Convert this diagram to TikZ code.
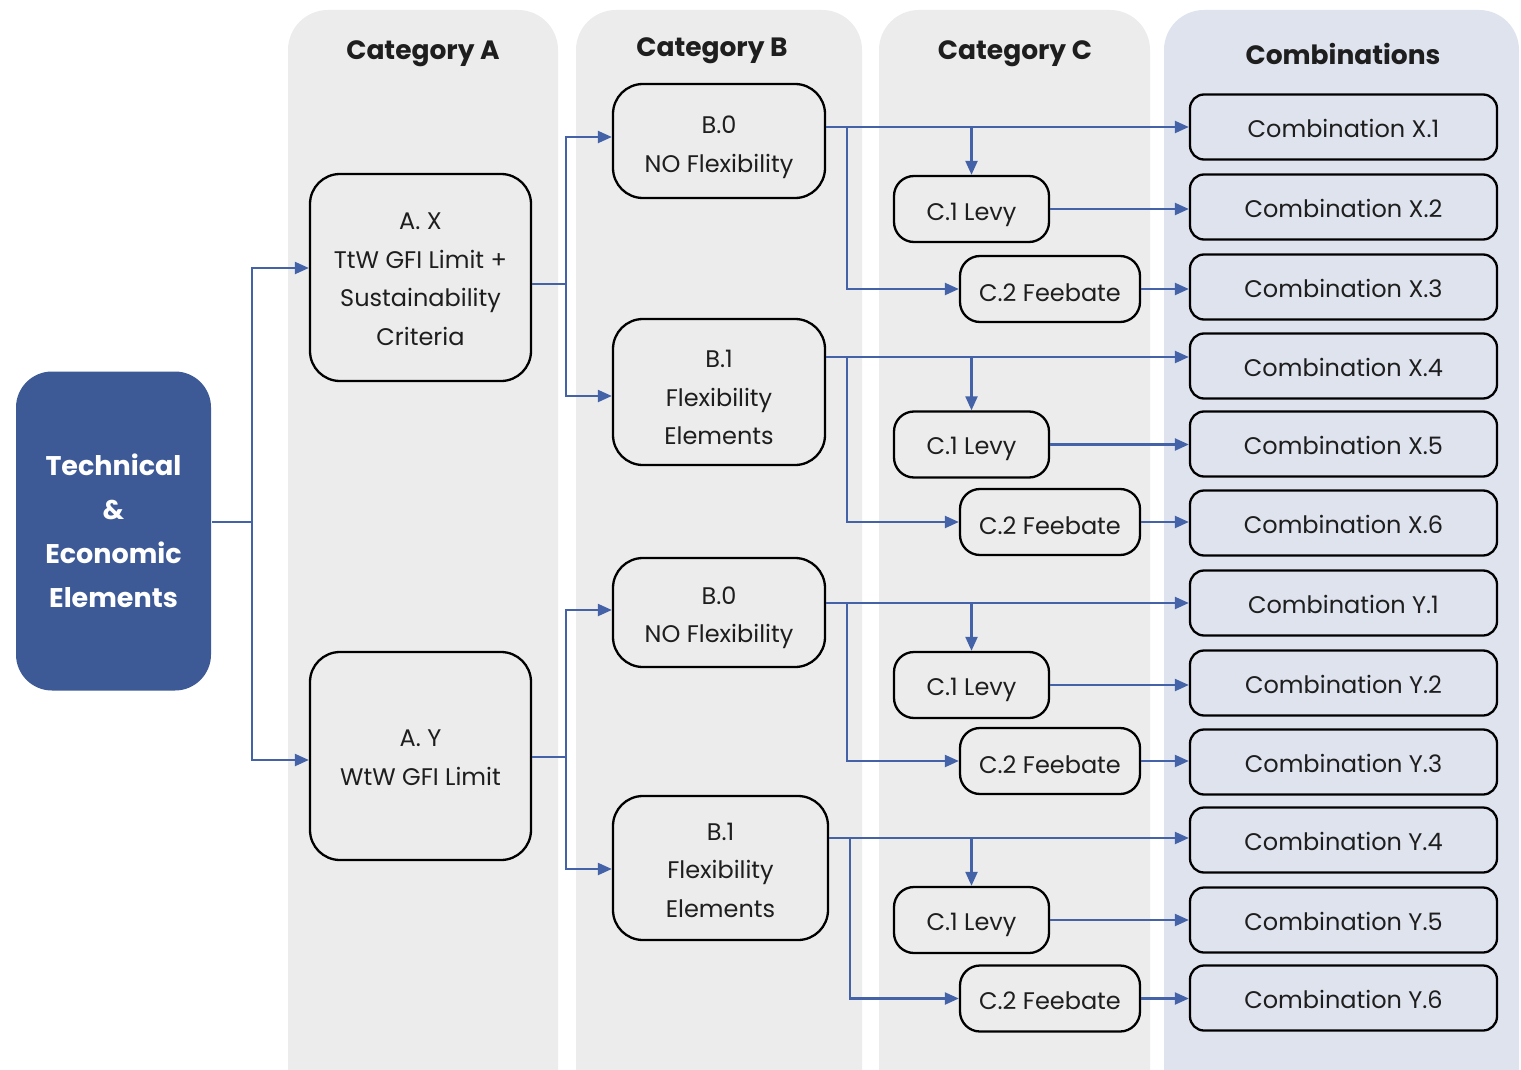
\documentclass[tikz,border=0pt]{standalone}
\usepackage{fontspec}
\setmainfont{Poppins}
\usetikzlibrary{arrows.meta}
\definecolor{panelgray}{HTML}{ECECEC}
\definecolor{panelblue}{HTML}{DFE3EE}
\definecolor{techblue}{HTML}{3D5A96}
\definecolor{connblue}{HTML}{4462A8}
\definecolor{txt}{HTML}{1E1E1E}
\newcommand\pushdown[1]{\rule{0pt}{#1}}
\tikzset{
  panel/.style={fill=panelgray, draw=none, rounded corners=40pt},
  cpanel/.style={fill=panelblue, draw=none, rounded corners=40pt},
  header/.style={font=\fontsize{26.5}{30}\selectfont\bfseries, text=txt},
  box/.style={draw=black, line width=2.3pt, rounded corners=30pt, align=center, inner sep=0pt,
    text=txt, font=\fontsize{24}{38.5}\selectfont},
  smallbox/.style={box, rounded corners=20pt, minimum width=155pt, minimum height=66pt},
  feebox/.style={box, rounded corners=20pt, minimum width=180pt, minimum height=66pt},
  combbox/.style={box, rounded corners=14pt, fill=panelblue, minimum width=307pt, minimum height=65pt},
  conn/.style={draw=connblue, line width=2.2pt, -{Triangle[length=14pt,width=12pt]}},
  connline/.style={draw=connblue, line width=2.2pt},
}
\begin{document}
\begin{tikzpicture}[x=1pt,y=-1pt]
\useasboundingbox (0,0) rectangle (1521,1070);
\clip (0,0) rectangle (1521,1070);
\fill[white] (0,0) rectangle (1521,1070);
% panels
\path[panel] (288,1110) -- (288,10) -- (558,10) -- (558,1110) -- cycle;
\path[panel] (576,1110) -- (576,10) -- (862,10) -- (862,1110) -- cycle;
\path[panel] (879,1110) -- (879,10) -- (1150,10) -- (1150,1110) -- cycle;
\path[cpanel] (1164,1110) -- (1164,10) -- (1519,10) -- (1519,1110) -- cycle;
% headers
\node[header] (hA) at (423,54) {Category A};
\node[header] (hB) at (712,51) {Category B};
\node[header] (hC) at (1015,54) {Category C};
\node[header] (hD) at (1343,54) {Combinations};
% technical
\node[box, draw=none, fill=techblue, text=white, rounded corners=36pt, minimum width=195pt, minimum height=319pt,
  font=\fontsize{27}{44}\selectfont\bfseries] (tech) at (113.5,531) {Technical\\\&\\Economic\\Elements};
% category A
\node[box, minimum width=221pt, minimum height=207pt] (ax) at (420.5,277.5) {\pushdown{20pt}A. X\\TtW GFI Limit +\\Sustainability\\Criteria};
\node[box, minimum width=221pt, minimum height=208pt] (ay) at (420.5,756) {\pushdown{20pt}A. Y\\WtW GFI Limit};
% category B
\node[box, minimum width=212pt, minimum height=114pt] (b0a) at (719,141) {\pushdown{30pt}B.0\\NO Flexibility};
\node[box, minimum width=212pt, minimum height=146pt] (b1a) at (719,392) {\pushdown{29pt}B.1\\Flexibility\\Elements};
\node[box, minimum width=212pt, minimum height=109pt] (b0b) at (719,612.5) {\pushdown{28pt}B.0\\NO Flexibility};
\node[box, minimum width=215pt, minimum height=144pt] (b1b) at (720.5,868) {\pushdown{22pt}B.1\\Flexibility\\Elements};
% category C
\node[smallbox] (c1a) at (971.5,209) {\pushdown{29pt}C.1 Levy};
\node[feebox] (c2a) at (1050,289) {\pushdown{25pt}C.2 Feebate};
\node[smallbox] (c1b) at (971.5,444.5) {\pushdown{27pt}C.1 Levy};
\node[feebox] (c2b) at (1050,522) {\pushdown{25pt}C.2 Feebate};
\node[smallbox] (c1c) at (971.5,685) {\pushdown{27pt}C.1 Levy};
\node[feebox] (c2c) at (1050,761) {\pushdown{25pt}C.2 Feebate};
\node[smallbox] (c1d) at (971.5,920) {\pushdown{27pt}C.1 Levy};
\node[feebox] (c2d) at (1050,998.5) {\pushdown{22pt}C.2 Feebate};
% combinations
\node[combbox] (x1) at (1343.5,127) {\pushdown{22pt}Combination X.1};
\node[combbox] (x2) at (1343.5,207) {\pushdown{22pt}Combination X.2};
\node[combbox] (x3) at (1343.5,287) {\pushdown{22pt}Combination X.3};
\node[combbox] (x4) at (1343.5,366) {\pushdown{22pt}Combination X.4};
\node[combbox] (x5) at (1343.5,444) {\pushdown{22pt}Combination X.5};
\node[combbox] (x6) at (1343.5,523) {\pushdown{22pt}Combination X.6};
\node[combbox] (y1) at (1343.5,603) {\pushdown{22pt}Combination Y.1};
\node[combbox] (y2) at (1343.5,683) {\pushdown{22pt}Combination Y.2};
\node[combbox] (y3) at (1343.5,762) {\pushdown{22pt}Combination Y.3};
\node[combbox] (y4) at (1343.5,840) {\pushdown{22pt}Combination Y.4};
\node[combbox] (y5) at (1343.5,920) {\pushdown{22pt}Combination Y.5};
\node[combbox] (y6) at (1343.5,998) {\pushdown{22pt}Combination Y.6};
% technical -> A
\coordinate (t1) at (252,522);
\draw[connline] (tech.east |- t1) -- (t1);
\draw[conn] (t1) |- (ax.west |- 0,268);
\draw[conn] (t1) |- (ay.west |- 0,760);
% A -> B
\coordinate (a1) at (566,284);
\draw[connline] (ax.east |- a1) -- (a1);
\draw[conn] (a1) |- (b0a.west |- 0,137);
\draw[conn] (a1) |- (b1a.west |- 0,396);
\coordinate (a2) at (566,757);
\draw[connline] (ay.east |- a2) -- (a2);
\draw[conn] (a2) |- (b0b.west |- 0,610);
\draw[conn] (a2) |- (b1b.west |- 0,869);
% group 1
\coordinate (j1) at (847,127);
\coordinate (d1) at (971.5,127);
\draw[conn] (b0a.east |- j1) -- (x1.west |- j1);
\draw[conn] (j1) |- (c2a.west);
\draw[conn] (d1) -- (c1a.north);
\draw[conn] (c1a.east) -- (x2.west |- c1a.east);
\draw[conn] (c2a.east) -- (x3.west |- c2a.east);
% group 2
\coordinate (j2) at (847,357);
\coordinate (d2) at (971.5,357);
\draw[conn] (b1a.east |- j2) -- (x4.west |- j2);
\draw[conn] (j2) |- (c2b.west);
\draw[conn] (d2) -- (c1b.north);
\draw[conn] (c1b.east) -- (x5.west |- c1b.east);
\draw[conn] (c2b.east) -- (x6.west |- c2b.east);
% group 3
\coordinate (j3) at (847,603);
\coordinate (d3) at (971.5,603);
\draw[conn] (b0b.east |- j3) -- (y1.west |- j3);
\draw[conn] (j3) |- (c2c.west);
\draw[conn] (d3) -- (c1c.north);
\draw[conn] (c1c.east) -- (y2.west |- c1c.east);
\draw[conn] (c2c.east) -- (y3.west |- c2c.east);
% group 4
\coordinate (j4) at (850,838);
\coordinate (d4) at (971.5,838);
\draw[conn] (b1b.east |- j4) -- (y4.west |- j4);
\draw[conn] (j4) |- (c2d.west);
\draw[conn] (d4) -- (c1d.north);
\draw[conn] (c1d.east) -- (y5.west |- c1d.east);
\draw[conn] (c2d.east) -- (y6.west |- c2d.east);
\end{tikzpicture}
\end{document}
